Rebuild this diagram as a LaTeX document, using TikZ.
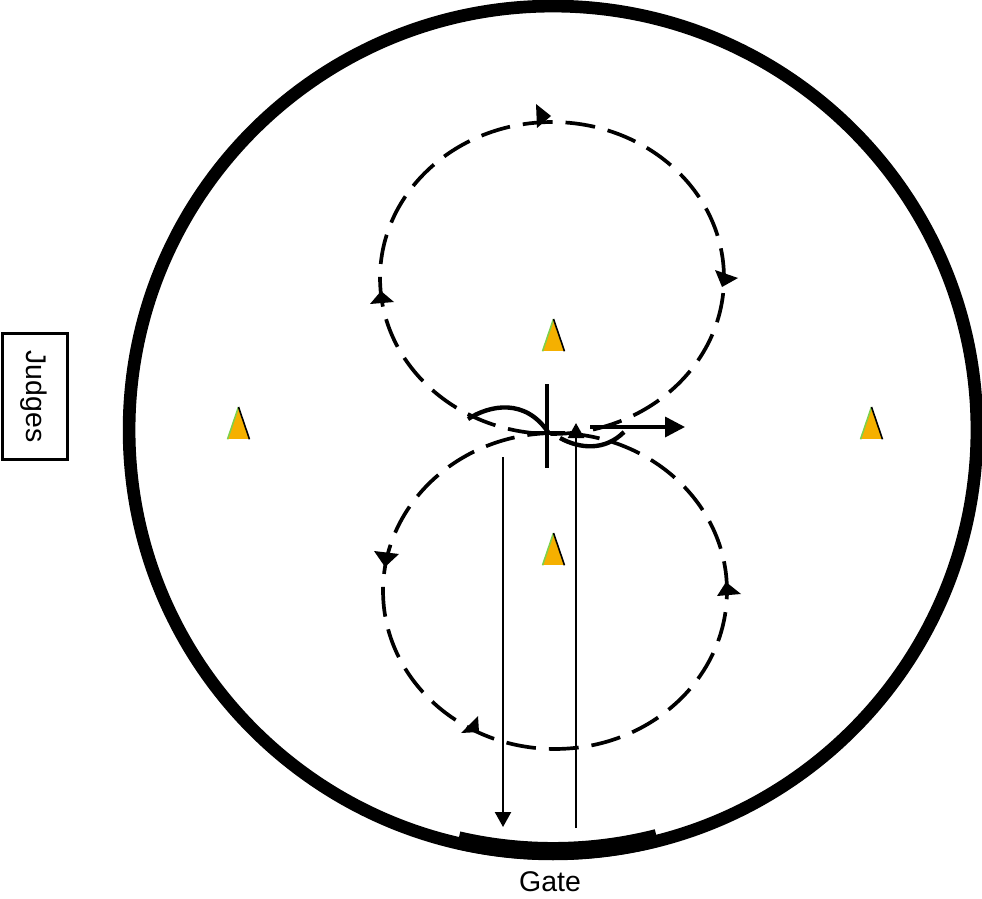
\documentclass[tikz,border=0pt]{standalone}
\usepackage{fontspec}
\setmainfont{Liberation Sans}
\usetikzlibrary{arrows.meta,shapes.geometric}
\definecolor{coneyellow}{HTML}{F5B000}
\definecolor{conegreen}{HTML}{7FD04A}
\tikzset{
    ring/.style={circle, draw, line width=7.2pt, inner sep=0pt, minimum size=16.96cm},
    gateline/.style={line width=10.2pt},
    track/.style={line width=2.1pt, dash pattern=on 17pt off 7.4pt},
    halt/.style={line width=2.4pt},
    turn/.style={line width=2.5pt},
    thinflow/.style={-{Triangle[length=0.3cm, width=0.32cm]}, line width=1.3pt},
    turnflow/.style={-{Triangle[length=0.4cm, width=0.4cm]}, line width=2pt},
    cone/.style={isosceles triangle, isosceles triangle stretches, shape border rotate=90, anchor=apex,
                 fill=coneyellow, inner sep=0pt, minimum width=0.42cm, minimum height=0.62cm},
    label/.style={font=\fontsize{16.2}{18}\selectfont, inner sep=0pt},
    judgesbox/.style={draw, line width=1.3pt, minimum width=1.3cm, minimum height=2.52cm},
}

\begin{document}
\begin{tikzpicture}[x=0.02cm, y=-0.02cm]
    \useasboundingbox (0,0) rectangle (982,898);

    % arena
    \node[ring] (arena) at (553,430) {};
    \draw[gateline] ([shift={(75.7:421)}]arena.center) arc[start angle=75.7, end angle=103, radius=421];
    \node[label] (gate) at (550,882) {Gate};
    \node[judgesbox] (judges) at (35,396.5) {};
    \node[label, rotate=-90] (judgeslabel) at (34,396.5) {Judges};

    % markers
    \foreach \i/\x/\y in {1/553.5/319,2/238.5/407,3/871.5/407,4/553.5/533} {
        \node[cone] (cone\i) at (\x,\y) {};
        \draw[conegreen, line width=0.9pt] (cone\i.left corner) -- (cone\i.apex);
        \draw[line width=0.9pt] (cone\i.right corner) -- (cone\i.apex);
    }

    % figure of eight
    \node[ellipse, draw, track, inner sep=0pt, minimum width=6.88cm, minimum height=6.24cm] (upper) at (552,278) {};
    \node[ellipse, draw, track, inner sep=0pt, minimum width=6.88cm, minimum height=6.32cm] (lower) at (555,591) {};
    \foreach \xa/\ya/\xb/\yb/\xc/\yc in {536/104/551/116/537/128,715/270/738/278/722/287,
        381/291/370/304/394/302,374/551/399/554/385/567,726/582/717/596/741/594,461/733/478/716/479/732} {
        \fill (\xa,\ya) -- (\xb,\yb) -- (\xc,\yc) -- cycle;
    }

    % centre halt and turns
    \coordinate (halttop) at (547,384);
    \coordinate (haltbottom) at (547,468);
    \coordinate (haltleft) at (533,433);
    \coordinate (haltright) at (565,433);
    \draw[halt] (halttop) -- (haltbottom);
    \draw[halt] (haltleft) -- (haltright);
    \coordinate (turnastart) at (468,419);
    \coordinate (turnaend) at (548,432);
    \coordinate (turnbstart) at (560,438);
    \coordinate (turnbend) at (624,432);
    \draw[turn] (turnastart) .. controls (490,405) and (525,398) .. (turnaend);
    \draw[turn] (turnbstart) .. controls (580,449) and (605,451) .. (turnbend);

    % entry, exit and the line of departure
    \coordinate (entrystart) at (576,828);
    \coordinate (entryend) at (576,423);
    \coordinate (exitstart) at (503,457);
    \coordinate (exitend) at (503,827);
    \coordinate (departstart) at (590,427);
    \coordinate (departend) at (685,427);
    \draw[thinflow] (entrystart) -- (entryend);
    \draw[thinflow] (exitstart) -- (exitend);
    \draw[turnflow] (departstart) -- (departend);
\end{tikzpicture}
\end{document}
